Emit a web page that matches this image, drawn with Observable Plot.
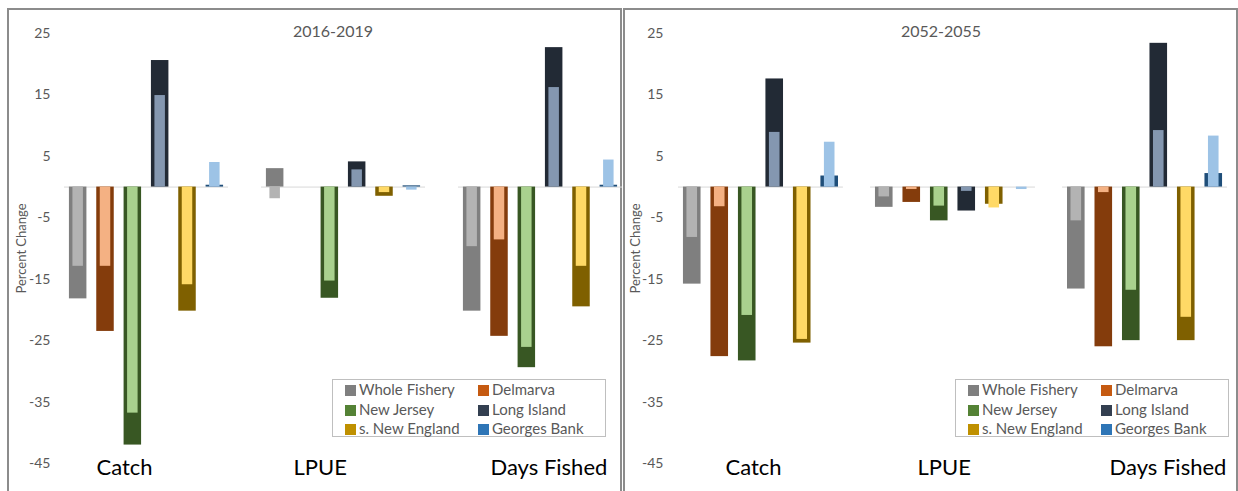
<!DOCTYPE html>
<html>
<head>
<meta charset="utf-8">
<script src="https://cdn.jsdelivr.net/npm/d3@7"></script>
<script src="https://cdn.jsdelivr.net/npm/@observablehq/plot@0.6"></script>
<style>
  html, body { margin: 0; padding: 0; background: #fff; }
  #root { position: relative; width: 1238px; height: 491px; overflow: hidden; font-family: Lato, "Open Sans", sans-serif; }
  .frame { position: absolute; top: 8px; height: 520px; border: 2px solid #8c8c8c; border-bottom: none; box-sizing: border-box; }
  .plot { position: absolute; top: 0; }
  .title { position: absolute; top: 22px; font-size: 16px; line-height: 18px; color: #595959; transform: translateX(-50%); white-space: nowrap; }
  .legend { position: absolute; width: 274px; height: 58px; border: 1px solid #bfbfbf; box-sizing: border-box; background: #fff; }
  .legend .item { position: absolute; font-size: 15px; line-height: 19px; color: #595959; white-space: nowrap; }
  .legend .sw { display: inline-block; width: 11px; height: 11px; margin-right: 3px; vertical-align: -1px; }
</style>
</head>
<body>
<div id="root"></div>
<script>
// ---- data ----
const metrics = ["Catch", "LPUE", "Days Fished"];
const regions = ["Whole Fishery", "Delmarva", "New Jersey", "Long Island", "s. New England", "Georges Bank"];
const yTicks = [25, 15, 5, -5, -15, -25, -35, -45];
const periods = ["2016-2019", "2052-2055"];

// 2016-2019: wide (dark) bars and narrow (light) bars, per metric, per region
const early_wide_catch = [-18.2, -23.5, -42.0, 20.6, -20.2, 0.3];
const early_narrow_catch = [-12.9, -12.9, -36.8, 14.9, -15.9, 4.0];
const early_wide_lpue = [3.0, 0, -18.1, 4.1, -1.5, 0.2];
const early_narrow_lpue = [-1.9, 0, -15.3, 2.8, -0.9, -0.5];
const early_wide_days = [-20.2, -24.3, -29.4, 22.7, -19.5, 0.3];
const early_narrow_days = [-9.7, -8.6, -26.1, 16.2, -12.9, 4.4];

// 2052-2055
const late_wide_catch = [-15.8, -27.6, -28.3, 17.6, -25.4, 1.8];
const late_narrow_catch = [-8.2, -3.2, -20.9, 8.9, -24.8, 7.3];
const late_wide_lpue = [-3.3, -2.5, -5.5, -3.9, -2.8, 0];
const late_narrow_lpue = [-1.6, -0.4, -3.1, -0.7, -3.4, -0.4];
const late_wide_days = [-16.6, -26.0, -25.0, 23.4, -25.0, 2.2];
const late_narrow_days = [-5.5, -0.9, -16.8, 9.2, -21.2, 8.3];

// ---- styles ----
const darkColors = {
  "Whole Fishery": "#7f7f7f", "Delmarva": "#843c0c", "New Jersey": "#385723",
  "Long Island": "#222a35", "s. New England": "#7f6000", "Georges Bank": "#1f4e79"
};
const lightColors = {
  "Whole Fishery": "#b3b3b3", "Delmarva": "#f4b183", "New Jersey": "#a9d18e",
  "Long Island": "#8497b0", "s. New England": "#ffd966", "Georges Bank": "#9dc3e6"
};
const legendColors = {
  "Whole Fishery": "#7f7f7f", "Delmarva": "#c55a11", "New Jersey": "#548235",
  "Long Island": "#333f50", "s. New England": "#bf9000", "Georges Bank": "#2e75b6"
};

function buildTable(wide, narrow) {
  const rows = [];
  metrics.forEach((m, i) => {
    regions.forEach((r, j) => {
      rows.push({metric: m, region: r, wide: wide[i][j], narrow: narrow[i][j]});
    });
  });
  return rows;
}

const earlyTable = buildTable(
  [early_wide_catch, early_wide_lpue, early_wide_days],
  [early_narrow_catch, early_narrow_lpue, early_narrow_days]);
const lateTable = buildTable(
  [late_wide_catch, late_wide_lpue, late_wide_days],
  [late_narrow_catch, late_narrow_lpue, late_narrow_days]);

function makePanel(table, cfg) {
  return Plot.plot({
    width: cfg.width,
    height: 491,
    marginLeft: cfg.marginLeft,
    marginRight: cfg.marginRight,
    marginTop: 33,
    marginBottom: 28,
    style: {fontFamily: "Lato, 'Open Sans', sans-serif", color: "#595959", background: "transparent", overflow: "visible"},
    fx: {domain: metrics, paddingInner: cfg.fxPad, paddingOuter: 0, axis: null, round: false},
    x: {domain: regions, paddingInner: 0.36, paddingOuter: 0.18, axis: null, round: false},
    y: {domain: [-45, 25]},
    color: {type: "identity"},
    marks: [
      Plot.ruleY([0], {stroke: "#d9d9d9", strokeWidth: 1}),
      Plot.barY(table, {fx: "metric", x: "region", y: "wide", fill: d => darkColors[d.region]}),
      Plot.barY(table, {fx: "metric", x: "region", y: "narrow", fill: d => lightColors[d.region], insetLeft: 3.5, insetRight: 3.5}),
      Plot.axisY({ticks: yTicks, tickSize: 0, tickPadding: cfg.tickPadding, tickFormat: d => String(d), fontSize: 14, label: null, fill: "#595959"}),
      Plot.text([{fx: metrics[0], label: "Percent Change"}], {fx: "fx", text: "label", frameAnchor: "left", rotate: -90, dx: -43, fontSize: 13, fill: "#595959", textAnchor: "middle"}),
      Plot.text(metrics, {fx: d => d, text: d => d, frameAnchor: "bottom-left", textAnchor: "start", lineAnchor: "middle", dx: cfg.labelDx, dy: 4, fontSize: 22, fill: "#000"})
    ]
  });
}

const root = document.getElementById("root");

// frames
[[7, 615], [623, 615]].forEach(([l, w]) => {
  const f = document.createElement("div");
  f.className = "frame";
  f.style.left = l + "px";
  f.style.width = w + "px";
  root.appendChild(f);
});

const panels = [
  {table: earlyTable, left: 0, width: 622, marginLeft: 64, marginRight: 0, fxPad: 0.1675, tickPadding: 14, labelDx: 32, titleX: 333, legendX: 332, title: periods[0]},
  {table: lateTable, left: 623, width: 615, marginLeft: 55, marginRight: 11, fxPad: 0.141, tickPadding: 15, labelDx: 47, titleX: 941, legendX: 955, title: periods[1]}
];

panels.forEach(p => {
  const svg = makePanel(p.table, p);
  const wrap = document.createElement("div");
  wrap.className = "plot";
  wrap.style.left = p.left + "px";
  wrap.appendChild(svg);
  root.appendChild(wrap);

  const t = document.createElement("div");
  t.className = "title";
  t.style.left = p.titleX + "px";
  t.textContent = p.title;
  root.appendChild(t);

  const lg = document.createElement("div");
  lg.className = "legend";
  lg.style.left = p.legendX + "px";
  lg.style.top = "379px";
  regions.forEach((r, i) => {
    const it = document.createElement("div");
    it.className = "item";
    it.style.left = (i % 2 === 0 ? 12 : 145) + "px";
    it.style.top = (Math.floor(i / 2) * 19.5 + 0) + "px";
    const sw = document.createElement("span");
    sw.className = "sw";
    sw.style.background = legendColors[r];
    it.appendChild(sw);
    it.appendChild(document.createTextNode(r));
    lg.appendChild(it);
  });
  root.appendChild(lg);
});
</script>
</body>
</html>
